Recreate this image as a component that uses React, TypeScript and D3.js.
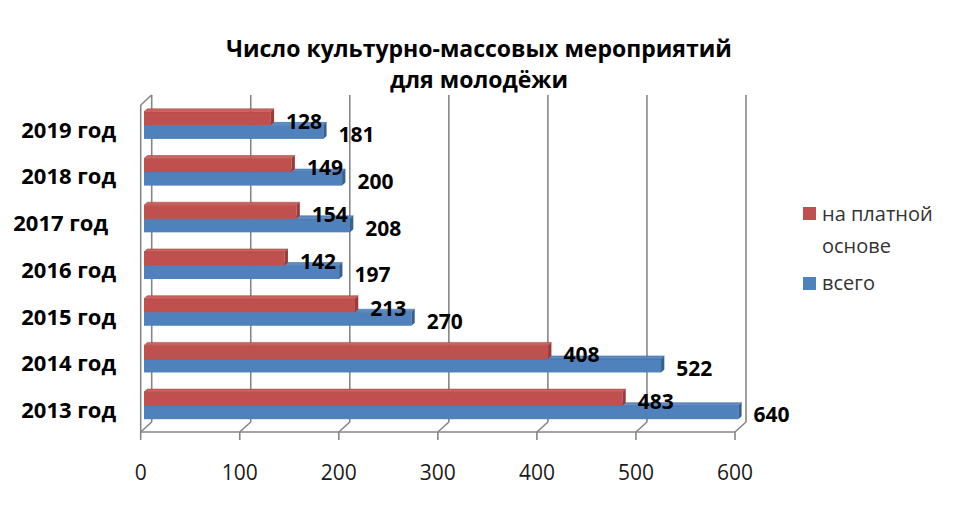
import * as d3 from 'd3';

// chart data
const categories = ['2013 год', '2014 год', '2015 год', '2016 год', '2017 год', '2018 год', '2019 год'];
const paidValues = [483, 408, 213, 142, 154, 149, 128];
const totalValues = [640, 522, 270, 197, 208, 200, 181];
const seriesNames = ['на платной основе', 'всего'];
const xTicks = [0, 100, 200, 300, 400, 500, 600];

const width = 960;
const height = 510;
const DX = 11; // depth offset of the 3d box
const DY = -10;
const T1 = 0.3; // bar front depth
const T2 = 0.6; // bar back depth
const plotTop = 105;
const plotBottom = 432;
const font = '"Open Sans", "Noto Sans", sans-serif';
const grid = '#868686';

const RED = { front: '#c0504d', top: '#cd625e', side: '#983c39' };
const BLUE = { front: '#4f81bd', top: '#5d8cc6', side: '#36608f' };

const x = d3.scaleLinear().domain([0, 600]).range([140.7, 735]).clamp(true);
const y = d3
  .scaleBand()
  .domain([...categories].reverse())
  .range([plotTop, plotBottom]);

const barH = y.bandwidth() * 0.29;

function p(px: number, py: number, t: number) {
  return [px + t * DX, py + t * DY];
}

function poly(pts: number[][]) {
  return pts.map((d) => d.join(',')).join(' ');
}

function Bar({ v, yt, c }: { v: number; yt: number; c: any }) {
  const x0 = x(0);
  const x1 = x(v);
  const a = p(x0, yt, T1);
  return (
    <g>
      <rect x={a[0]} y={a[1]} width={x1 - x0} height={barH} fill={c.front} />
      <polygon
        points={poly([p(x0, yt, T1), p(x1, yt, T1), p(x1, yt, T2), p(x0, yt, T2)])}
        fill={c.top}
        stroke={c.side}
        strokeWidth={0.5}
      />
      <polygon
        points={poly([p(x1, yt, T1), p(x1, yt + barH, T1), p(x1, yt + barH, T2), p(x1, yt, T2)])}
        fill={c.side}
      />
    </g>
  );
}

export default function App() {
  const backTop = plotTop + DY;
  const backBottom = plotBottom + DY;

  return (
    <svg
      width={width}
      height={height}
      style={{ position: 'absolute', left: 0, top: 0, background: '#fff' }}
    >
      {/* title */}
      <text x={479} y={57} textAnchor="middle" fontFamily={font} fontWeight="bold" fontSize={23} fill="#000">
        Число культурно-массовых мероприятий
      </text>
      <text x={479} y={88} textAnchor="middle" fontFamily={font} fontWeight="bold" fontSize={23} fill="#000">
        для молодёжи
      </text>

      {/* back wall gridlines + floor */}
      <g stroke={grid} strokeWidth={1.6} fill="none">
        {xTicks.map((t) => (
          <g key={t}>
            <line x1={x(t) + DX} x2={x(t) + DX} y1={backTop} y2={backBottom} />
            <line x1={x(t)} y1={plotBottom} x2={x(t) + DX} y2={backBottom} />
            <line x1={x(t)} x2={x(t)} y1={plotBottom} y2={plotBottom + 8} />
          </g>
        ))}
        <line x1={x(0)} x2={x(600)} y1={plotBottom} y2={plotBottom} />
        <line x1={x(0)} x2={x(0)} y1={plotTop} y2={plotBottom} />
        <line x1={x(0)} y1={plotTop} x2={x(0) + DX} y2={backTop} />
      </g>

      {/* bars */}
      {categories.map((cat, i) => {
        const c = y(cat)! + y.bandwidth() / 2;
        return (
          <g key={cat}>
            <Bar v={totalValues[i]} yt={c} c={BLUE} />
            <Bar v={paidValues[i]} yt={c - barH} c={RED} />
          </g>
        );
      })}

      {/* data labels */}
      <g fontFamily={font} fontWeight="bold" fontSize={21} fill="#000">
        {categories.map((cat, i) => {
          const c = y(cat)! + y.bandwidth() / 2 + T1 * DY;
          return (
            <g key={cat}>
              <text x={x(paidValues[i]) + T2 * DX + 12} y={c - barH / 2 + 2.5} dy="0.36em">
                {paidValues[i]}
              </text>
              <text x={x(totalValues[i]) + T2 * DX + 12} y={c + barH / 2 + 2.5} dy="0.36em">
                {totalValues[i]}
              </text>
            </g>
          );
        })}
      </g>

      {/* category labels */}
      <g fontFamily={font} fontWeight="bold" fontSize={22} fill="#000" textAnchor="end">
        {categories.map((cat) => (
          <text key={cat} x={cat === '2017 год' ? 108 : 116} y={y(cat)! + y.bandwidth() / 2 + 1.5} dy="0.36em">
            {cat}
          </text>
        ))}
      </g>

      {/* value axis labels */}
      <g fontFamily={font} fontSize={21} fill="#1a1a1a" textAnchor="middle">
        {xTicks.map((t) => (
          <text key={t} x={x(t)} y={472.5} dy="0.36em">
            {t}
          </text>
        ))}
      </g>

      {/* legend */}
      <g fontFamily={font} fontSize={20} fill="#333">
        <rect x={803} y={207} width={13} height={13} fill={RED.front} />
        <text x={822} y={221}>на платной</text>
        <text x={822} y={253}>основе</text>
        <rect x={803} y={277} width={13} height={13} fill={BLUE.front} />
        <text x={822} y={290}>{seriesNames[1]}</text>
      </g>
    </svg>
  );
}
